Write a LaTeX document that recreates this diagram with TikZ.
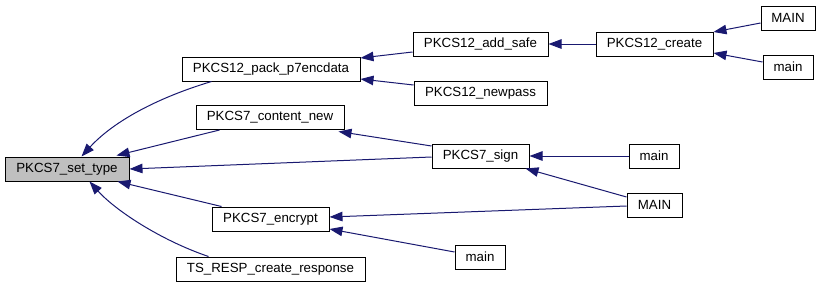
\documentclass[tikz,border=0pt]{standalone}
\usepackage{fontspec}
\setmainfont{Liberation Sans}
\usetikzlibrary{arrows.meta,calc}
\definecolor{edgeblue}{RGB}{25,25,112}
\definecolor{focusgray}{RGB}{191,191,191}
\begin{document}
\begin{tikzpicture}[x=1pt,y=-1pt,
  fn/.style={draw=black,line width=1pt,fill=white,minimum height=24pt,
    inner sep=0pt,font=\fontsize{13.3}{16}\selectfont},
  focus/.style={fn,fill=focusgray},
  call/.style={draw=edgeblue,line width=1pt,
    {Triangle[length=13pt,width=9.5pt,fill=edgeblue]}-}]
\useasboundingbox (0,0) rectangle (821,287);

% functions
\node[focus,minimum width=124pt] (setType)    at (67,169)    {PKCS7\_set\_type};
\node[fn,minimum width=178pt]    (pack)       at (271,69)    {PKCS12\_pack\_p7encdata};
\node[fn,minimum width=148pt]    (contentNew) at (270,117.5) {PKCS7\_content\_new};
\node[fn,minimum width=117pt]    (encrypt)    at (270.5,219) {PKCS7\_encrypt};
\node[fn,minimum width=189pt]    (tsResp)     at (270.5,269) {TS\_RESP\_create\_response};
\node[fn,minimum width=135pt]    (addSafe)    at (480.5,44)  {PKCS12\_add\_safe};
\node[fn,minimum width=133pt]    (newpass)    at (480.5,93)  {PKCS12\_newpass};
\node[fn,minimum width=117pt]    (create)     at (654.5,44)  {PKCS12\_create};
\node[fn,minimum width=54pt]     (mainA)      at (788,18)    {MAIN};
\node[fn,minimum width=50pt]     (mainB)      at (788,67)    {main};
\node[fn,minimum width=97pt]     (sign)       at (480.5,156) {PKCS7\_sign};
\node[fn,minimum width=50pt]     (mainC)      at (654,156)   {main};
\node[fn,minimum width=55pt]     (mainD)      at (654.5,205) {MAIN};
\node[fn,minimum width=50pt]     (mainE)      at (480,257)   {main};

% calls (arrow tip at the called function)
\draw[call] ($(pack.east)+(0,-11)$) -- ($(addSafe.west)+(0,8)$);
\draw[call] ($(pack.east)+(0,10)$) -- ($(newpass.west)+(0,-8)$);
\draw[call] (addSafe.east) -- (create.west);
\draw[call] ($(create.east)+(0,-12)$) -- ($(mainA.west)+(0,5)$);
\draw[call] ($(create.east)+(0,9)$) -- ($(mainB.west)+(0,-5)$);
\draw[call] ($(contentNew.south east)+(-6,1.5)$) -- ($(sign.west)+(0,-10)$);
\draw[call] (setType.east) -- ($(sign.west)+(0,1)$);
\draw[call] (sign.east) -- (mainC.west);
\draw[call] ($(sign.south east)+(-4,0)$) -- ($(mainD.west)+(0,-8)$);
\draw[call] ($(encrypt.east)+(0,-2)$) -- ($(mainD.west)+(0,1)$);
\draw[call] ($(encrypt.east)+(0,10)$) -- ($(mainE.west)+(0,-5)$);
\draw[call] ($(setType.north east)+(-13,-1)$) -- ($(contentNew.south west)+(24,0)$);
\draw[call] ($(setType.south east)+(-12,0)$) -- ($(encrypt.north west)+(10,0)$);
\draw[call] ($(setType.north west)+(77,0)$)
  .. controls (110,125) and (150,100) .. ($(pack.south west)+(30,0)$);
\draw[call] ($(setType.south west)+(85,0)$)
  .. controls (115,210) and (160,240) .. ($(tsResp.north west)+(33,0)$);
\end{tikzpicture}
\end{document}
